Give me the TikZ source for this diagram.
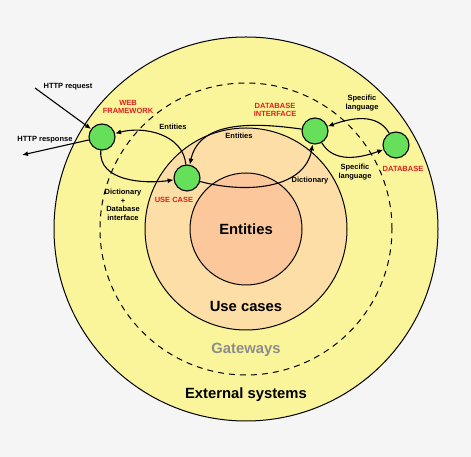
\documentclass[tikz,border=0pt]{standalone}
\usepackage{fontspec}
\setmainfont{Liberation Sans}
\usetikzlibrary{arrows.meta}
\definecolor{bgc}{RGB}{245,245,245}
\definecolor{extc}{RGB}{250,244,155}
\definecolor{ucc}{RGB}{253,222,166}
\definecolor{entc}{RGB}{252,200,155}
\definecolor{grn}{RGB}{102,224,90}
\definecolor{redl}{RGB}{224,32,27}

\begin{document}
\begin{tikzpicture}[x=1pt,y=1pt,font=\bfseries\fontsize{7.5}{8.5}\selectfont,>={Latex[length=6pt,width=5pt]},
  ring/.style={circle,draw,line width=1pt,inner sep=0pt},
  gw/.style={circle,draw,line width=1.1pt,fill=grn,minimum size=26pt,inner sep=0pt},
  lbl/.style={align=center,inner sep=1pt},
  rl/.style={lbl,text=redl},
  big/.style={font=\bfseries\fontsize{14.8}{17}\selectfont},
  con/.style={->,line width=1.1pt}]
  \fill[bgc](0,0)rectangle(471,457);
  \useasboundingbox(0,0)rectangle(471,457);
  \coordinate(c)at(246,228);
  % rings
  \node[ring,fill=extc,minimum size=384pt](ext)at(c){};
  \node[ring,dash pattern=on 6pt off 5pt,minimum size=292pt](gate)at(c){};
  \node[ring,fill=ucc,minimum size=202pt](uc)at(c){};
  \node[ring,fill=entc,minimum size=112pt](ent)at(c){};
  \node[big](tent)at(246,228){Entities};
  \node[big](tuc)at(246,151){Use cases};
  \node[big,text=black!45](tgw)at(246,107){Gateways};
  \node[big](tex)at(246,62){External systems};
  % components
  \node[gw](wf)at(102,320){};
  \node[gw](ucs)at(187,279){};
  \node[gw](dbi)at(315,326){};
  \node[gw](db)at(396,312){};
  \node[rl](twf)at(128,350){WEB\\FRAMEWORK};
  \node[rl](tucs)at(174,257){USE CASE};
  \node[rl](tdbi)at(275,347){DATABASE\\INTERFACE};
  \node[rl](tdb)at(403,288){DATABASE};
  % http
  \coordinate(req)at(35,369);
  \coordinate(resp)at(22,302);
  \node[lbl](treq)at(68,370){HTTP request};
  \node[lbl](tresp)at(45,317){HTTP response};
  \draw[con](req)--(wf);
  \draw[con](wf)--(resp);
  % flows
  \draw[con](wf)to[out=-95,in=188](ucs);
  \draw[con](ucs)to[out=95,in=15](wf);
  \draw[con](dbi)to[out=172,in=78](ucs);
  \draw[con](ucs)to[out=-15,in=-100](dbi);
  \draw[con](dbi)to[out=-60,in=200](db);
  \draw[con](db)to[out=120,in=20](dbi);
  \node[lbl](l1)at(123,252){Dictionary\\+\\Database\\interface};
  \node[lbl](l2)at(173,330){Entities};
  \node[lbl](l3)at(239,321){Entities};
  \node[lbl](l4)at(310,276){Dictionary};
  \node[lbl](l5)at(355,285){Specific\\language};
  \node[lbl](l6)at(362,354){Specific\\language};
\end{tikzpicture}
\end{document}
